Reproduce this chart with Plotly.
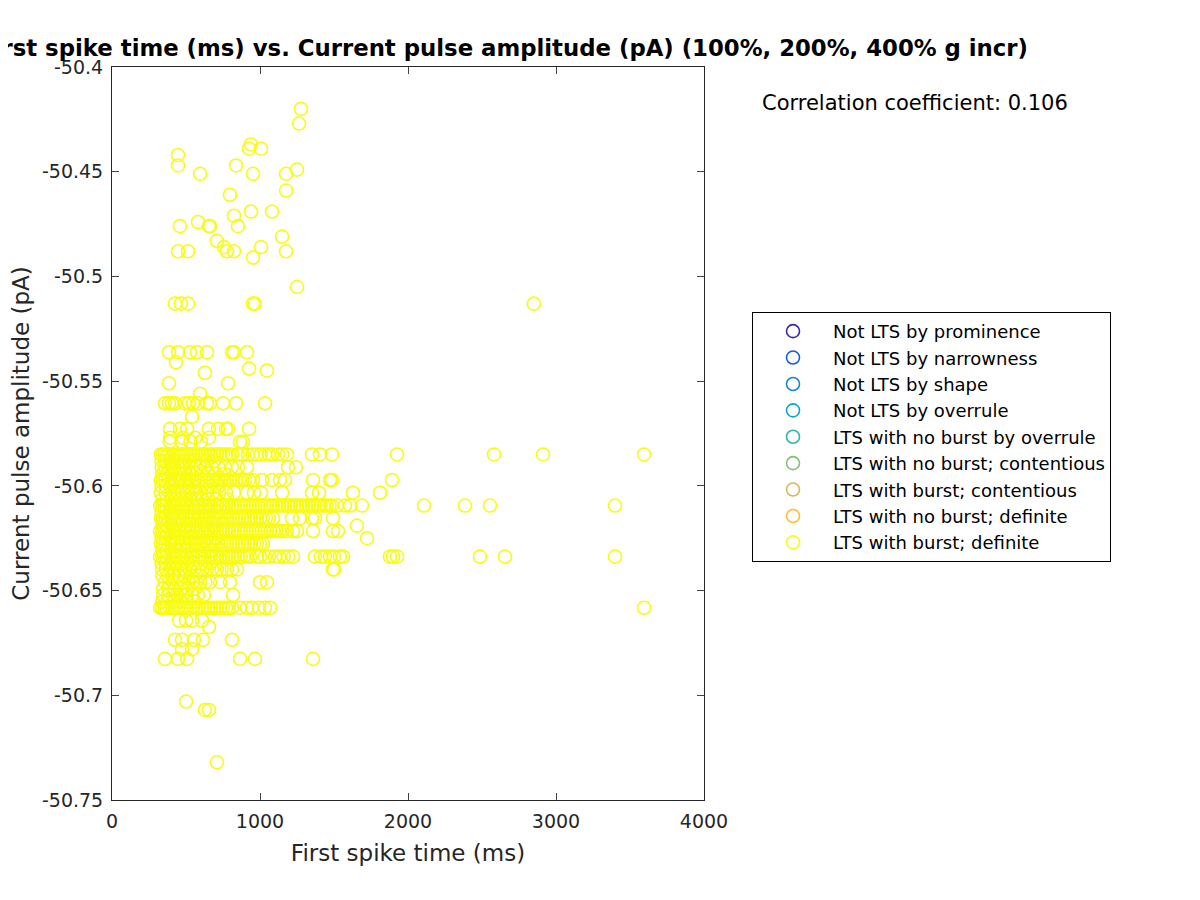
import plotly.graph_objects as go

# ---------------- data ----------------
legend_names = [
    "Not LTS by prominence",
    "Not LTS by narrowness",
    "Not LTS by shape",
    "Not LTS by overrule",
    "LTS with no burst by overrule",
    "LTS with no burst; contentious",
    "LTS with burst; contentious",
    "LTS with no burst; definite",
    "LTS with burst; definite",
]
legend_colors = [
    "rgb(62,38,168)",
    "rgb(16,92,224)",
    "rgb(26,132,222)",
    "rgb(8,168,204)",
    "rgb(46,183,164)",
    "rgb(132,192,116)",
    "rgb(214,184,88)",
    "rgb(252,190,52)",
    "rgb(249,251,21)",
]

# isolated points (first spike time in ms, current pulse amplitude in pA)
single_x = [1277, 1264, 939, 926, 1007, 446, 446, 595, 838, 953, 1176, 1250, 1176, 797,
            824, 939, 1081, 459, 581, 655, 662, 851, 1149, 709, 757, 777, 824, 446, 514,
            1007, 953, 1176, 1250, 426, 466, 514, 953, 966, 2850,
            432, 628, 926, 1047, 385, 784, 595, 541,
            392, 459, 507, 655, 716, 770, 784, 926,
            392, 480, 561, 655, 865, 885,
            1655, 1723, 1000, 1047, 500, 628, 655, 709]
single_y = [-50.420, -50.427, -50.437, -50.439, -50.439, -50.442, -50.447, -50.451, -50.447,
            -50.451, -50.451, -50.449, -50.459, -50.461, -50.471, -50.469, -50.469, -50.476,
            -50.474, -50.476, -50.476, -50.476, -50.481, -50.483, -50.486, -50.488, -50.488,
            -50.488, -50.488, -50.486, -50.491, -50.488, -50.505, -50.513, -50.513, -50.513,
            -50.513, -50.513, -50.513,
            -50.541, -50.546, -50.544, -50.545, -50.551, -50.551, -50.556, -50.567,
            -50.5728, -50.5728, -50.5728, -50.5728, -50.5728, -50.5728, -50.5728, -50.5728,
            -50.577, -50.577, -50.577, -50.577, -50.579, -50.579,
            -50.619, -50.625, -50.646, -50.646, -50.703, -50.707, -50.707, -50.732]

# rows of points sharing the same amplitude level
row_levels = [-50.5362, -50.5606, -50.5789, -50.5850, -50.5911, -50.5972, -50.6033, -50.6094,
              -50.6155, -50.6216, -50.6277, -50.6338, -50.6399, -50.6460, -50.6521, -50.6582,
              -50.6643, -50.6674, -50.6735, -50.6780, -50.6826]
row_times = [
    [385, 446, 527, 574, 642, 811, 824, 912],
    [358, 385, 405, 426, 493, 520, 547, 581, 642, 662, 750, 838, 1034],
    [390, 470, 530, 600],
    [330, 345, 360, 375, 390, 410, 430, 450, 470, 490, 510, 530, 550, 570, 590, 610, 630,
     650, 670, 690, 710, 730, 750, 770, 790, 810, 851, 880, 919, 950, 980, 1005, 1034,
     1060, 1081, 1122, 1150, 1182, 1351, 1405, 1486, 1926, 2581, 2912, 3595],
    [335, 358, 380, 400, 419, 445, 473, 500, 541, 570, 595, 630, 676, 720, 764, 810, 851,
     912, 1189, 1243],
    [330, 345, 360, 380, 400, 420, 440, 460, 480, 500, 520, 540, 560, 580, 600, 620, 640,
     660, 680, 700, 720, 740, 760, 780, 800, 820, 840, 860, 880, 900, 925, 953, 1014, 1081,
     1135, 1169, 1358, 1473, 1486, 1892],
    [330, 360, 390, 420, 450, 480, 510, 540, 570, 600, 640, 680, 723, 770, 824, 912, 959,
     1007, 1149, 1351, 1399, 1628, 1811],
    [325, 340, 355, 370, 390, 410, 430, 450, 470, 490, 510, 530, 550, 570, 590, 610, 630,
     650, 670, 690, 710, 730, 750, 770, 790, 810, 830, 850, 870, 890, 910, 930, 950, 970,
     990, 1010, 1030, 1050, 1070, 1090, 1110, 1130, 1150, 1170, 1190, 1210, 1230, 1250,
     1270, 1290, 1310, 1330, 1350, 1370, 1390, 1410, 1430, 1450, 1470, 1486, 1520, 1574,
     1608, 1689, 2108, 2385, 2554, 3399],
    [330, 345, 360, 380, 400, 420, 440, 460, 480, 500, 520, 540, 560, 580, 600, 620, 640,
     660, 680, 700, 720, 740, 760, 780, 800, 820, 840, 860, 880, 900, 920, 940, 960, 980,
     1000, 1020, 1040, 1060, 1088, 1216, 1270, 1351, 1372, 1493],
    [325, 340, 355, 370, 390, 410, 430, 450, 470, 490, 510, 530, 550, 570, 590, 610, 630,
     650, 670, 690, 710, 730, 750, 770, 790, 810, 830, 850, 870, 890, 910, 930, 950, 970,
     990, 1010, 1030, 1050, 1070, 1090, 1110, 1130, 1150, 1182, 1223, 1250, 1358, 1493,
     1527],
    [330, 345, 360, 380, 400, 420, 440, 460, 480, 500, 520, 540, 560, 580, 600, 620, 640,
     660, 680, 700, 720, 740, 760, 780, 800, 820, 840, 860, 880, 900, 920, 940, 960, 980,
     1000, 1020],
    [325, 340, 355, 370, 390, 410, 430, 450, 470, 490, 510, 530, 550, 570, 590, 610, 630,
     650, 670, 690, 710, 730, 750, 770, 790, 810, 830, 850, 870, 890, 910, 932, 980, 1000,
     1034, 1061, 1101, 1130, 1160, 1190, 1223, 1372, 1412, 1439, 1473, 1500, 1540, 1561,
     1878, 1899, 1926, 2486, 2655, 3399],
    [338, 365, 392, 425, 459, 490, 527, 555, 581, 610, 642, 675, 709, 740, 777, 810, 845,
     1493, 1500],
    [358, 385, 412, 445, 480, 515, 547, 570, 595, 630, 662, 730, 797],
    [345, 380, 412, 440, 473, 505, 541, 580, 620, 818],
    [325, 340, 355, 370, 390, 410, 430, 450, 470, 490, 510, 530, 550, 570, 590, 610, 630,
     650, 670, 690, 710, 730, 750, 770, 790, 810, 865, 912, 946, 993, 1034, 1068, 3595],
    [453, 500, 541, 608],
    [655],
    [426, 473, 554, 615, 811],
    [473, 541],
    [358, 446, 507, 865, 966, 1358],
]

# in-between amplitude levels inside the densest block
mid_levels = [-50.5881, -50.5942, -50.6003, -50.6064, -50.6125, -50.6186, -50.6247,
              -50.6308, -50.6369, -50.6430, -50.6491, -50.6552]
mid_times = [
    [335, 360, 390, 420, 455, 490, 525, 560, 600, 640, 690],
    [340, 370, 400, 430, 460, 495, 530, 565, 610, 650, 700, 760],
    [335, 365, 395, 425, 455, 490, 520, 555, 590, 630, 670, 720],
    [340, 370, 400, 430, 465, 500, 535, 570, 610, 650, 700, 780],
    [335, 360, 390, 420, 450, 480, 515, 550, 585, 620, 660, 710, 770],
    [340, 370, 400, 430, 460, 495, 530, 565, 600, 640, 690, 750],
    [335, 365, 395, 425, 455, 490, 525, 560, 600, 645, 700],
    [340, 370, 400, 430, 465, 500, 535, 575, 620, 670, 730],
    [335, 365, 395, 430, 470, 510, 550, 600, 660],
    [340, 375, 410, 450, 495, 540, 590],
    [345, 380, 420, 465, 510, 560],
    [340, 375, 415, 460, 505, 560],
]

x_ticks = [0, 1000, 2000, 3000, 4000]
y_ticks = [-50.75, -50.7, -50.65, -50.6, -50.55, -50.5, -50.45, -50.4]
y_tick_text = ["-50.75", "-50.7", "-50.65", "-50.6", "-50.55", "-50.5", "-50.45", "-50.4"]
corr_text = "Correlation coefficient: 0.106"

# ---------------- assemble ----------------
all_x = list(single_x)
all_y = list(single_y)
for lvl, xs in zip(row_levels + mid_levels, row_times + mid_times):
    all_x.extend(xs)
    all_y.extend([lvl] * len(xs))

FONT = "DejaVu Sans"
AX = "rgb(38,38,38)"

fig = go.Figure()
for i, (name, col) in enumerate(zip(legend_names, legend_colors)):
    last = i == len(legend_names) - 1
    fig.add_trace(go.Scatter(
        x=all_x if last else [None],
        y=all_y if last else [None],
        mode="markers",
        name=name,
        marker=dict(symbol="circle-open", size=13, color=col, line=dict(width=1.6, color=col)),
    ))

fig.update_layout(
    width=1200, height=900,
    margin=dict(l=104, r=504, t=59, b=108, autoexpand=False),
    paper_bgcolor="white", plot_bgcolor="white",
    font=dict(family=FONT, size=19, color=AX),
    title=dict(text="<b>First spike time (ms) vs. Current pulse amplitude (pA) (100%, 200%, 400% g incr)</b>",
               x=1020 / 1200, xref="container", xanchor="right", y=1 - 40 / 900, yanchor="middle",
               font=dict(family=FONT, size=22.8, color="black")),
    showlegend=True,
    legend=dict(x=1.0811, y=0.6658, xanchor="left", yanchor="top",
                bordercolor="black", borderwidth=1, bgcolor="white",
                font=dict(family=FONT, size=18, color="black"),
                itemwidth=70),
    annotations=[dict(text=corr_text, x=1.0946, y=0.951, xref="paper", yref="paper",
                      xanchor="left", yanchor="middle", showarrow=False,
                      font=dict(family=FONT, size=21, color="black"))],
)
fig.update_xaxes(range=[0, 4000], tickvals=x_ticks, ticks="inside", ticklen=7,
                 showline=True, linecolor=AX, linewidth=1, mirror="allticks", automargin=False,
                 showgrid=False, zeroline=False, tickfont=dict(size=19), ticklabelstandoff=4,
                 title=dict(text="First spike time (ms)", font=dict(size=23), standoff=14))
fig.update_yaxes(range=[-50.75, -50.4], tickvals=y_ticks, ticktext=y_tick_text,
                 ticks="inside", ticklen=7, showline=True, linecolor=AX, linewidth=1,
                 mirror="allticks", showgrid=False, zeroline=False, tickfont=dict(size=19),
                 ticklabelstandoff=4, automargin=False,
                 title=dict(text="Current pulse amplitude (pA)", font=dict(size=23), standoff=17))

fig.write_html("out.html")
